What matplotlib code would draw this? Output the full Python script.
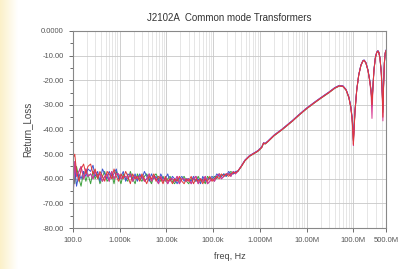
import numpy as np
import matplotlib
matplotlib.use("Agg")
import matplotlib.pyplot as plt
from matplotlib.ticker import FixedLocator, NullFormatter, LogLocator

plt.rcParams['font.family'] = ['Liberation Sans', 'DejaVu Sans']

# frequency grid, Hz
freq = [100, 110, 120, 135, 150, 170, 190, 210, 240, 270,
        300, 340, 380, 430, 480, 540, 600, 680, 760, 850,
        950, 1070, 1200, 1350, 1500, 1700, 1900, 2150, 2400, 2700,
        3000, 3400, 3800, 4300, 4800, 5400, 6000, 6800, 7600, 8500,
        9500, 10.7e3, 12e3, 13.5e3, 15e3, 17e3, 19e3, 21.5e3, 24e3, 27e3,
        30e3, 34e3, 38e3, 43e3, 48e3, 54e3, 60e3, 68e3, 76e3, 85e3,
        95e3, 107e3, 120e3, 135e3, 150e3, 170e3, 190e3, 215e3, 240e3, 270e3,
        300e3,
        340e3, 400e3, 480e3, 600e3, 750e3, 900e3, 1e6, 1.1e6, 1.2e6, 1.3e6,
        1.5e6, 2e6, 3e6, 5e6, 7e6, 10e6, 15e6, 20e6, 30e6, 40e6,
        50e6, 60e6, 70e6, 80e6, 88e6, 94e6, 98e6, 100e6, 103e6, 108e6,
        118e6, 130e6, 145e6, 160e6, 170e6, 185e6, 205e6, 225e6, 240e6, 250e6,
        260e6, 275e6, 295e6, 315e6, 335e6, 350e6, 370e6, 395e6, 415e6, 428e6,
        440e6, 460e6, 480e6, 500e6]

# low band (100 Hz .. 300 kHz), one list per trace
lf_red = [-52, -50, -57, -61, -56, -54, -58, -55, -54, -58,
          -56, -60, -57, -59, -61, -57, -58, -60, -56, -59,
          -61, -58, -60, -57, -59, -62, -58, -60, -59, -61,
          -58, -60, -62, -59, -60, -58, -61, -59, -60, -62,
          -59, -61, -60, -62, -60, -61, -59, -61, -62, -60,
          -61, -59, -62, -60, -61, -60, -62, -60, -61, -59,
          -61, -60, -59, -60, -58, -59, -58, -59, -58, -57.5,
          -57.5]
lf_blue = [-60, -55, -63, -58, -60, -57, -59, -56, -57, -54.5,
           -59, -57, -61, -56, -58, -60, -57, -59, -58, -56,
           -60, -59, -57, -61, -58, -59, -60, -58, -61, -58,
           -60, -57, -59, -61, -58, -60, -59, -61, -58, -60,
           -60, -58, -61, -59, -60, -62, -60, -59, -61, -60,
           -60, -61, -59, -61, -60, -62, -59, -61, -60, -60,
           -59, -60, -58, -59, -59, -58, -59, -57, -58, -58,
           -57]
lf_green = [-56, -62, -55, -60, -63, -57, -61, -58, -62, -57,
            -60, -58, -62, -59, -57, -61, -60, -58, -62, -57,
            -59, -62, -58, -60, -61, -57, -60, -62, -58, -60,
            -61, -59, -58, -60, -62, -59, -58, -60, -61, -59,
            -61, -60, -59, -61, -62, -60, -61, -60, -59, -61,
            -62, -60, -60, -61, -59, -61, -60, -62, -59, -60,
            -60, -59, -60, -58, -59, -58, -59, -58, -57, -58,
            -57.5]
lf_magenta = [-70, -53, -59, -57, -55, -60, -56, -59, -58, -60,
              -57, -59, -58, -61, -59, -58, -61, -57, -60, -58,
              -58, -60, -59, -59, -60, -58, -61, -59, -60, -59,
              -59, -61, -60, -58, -61, -59, -60, -62, -59, -61,
              -60, -62, -60, -60, -61, -59, -62, -60, -60, -61,
              -60, -62, -60, -59, -62, -60, -61, -59, -62, -61,
              -60, -61, -59, -58, -60, -59, -58, -58, -59, -57,
              -58]

# high band (340 kHz .. 500 MHz)
hf_red = [-56.8, -55, -52.6, -50.8, -49.7, -48.8, -48, -47.2, -45.5, -45.8,
          -44.8, -42.5, -40, -36.5, -34, -31.5, -29, -27.3, -25, -23.2,
          -22.3, -22.5, -24, -27, -31, -36, -42, -46, -41, -33,
          -24, -18, -14, -12.2, -12, -13, -16, -20.5, -25, -30,
          -24, -16, -11, -8.8, -8.2, -8.8, -11, -17, -26, -35,
          -24, -13, -9, -8]
hf_blue = [-56.8, -54.8, -52.4, -50.6, -49.5, -48.6, -47.8, -47, -45.4, -45.6,
           -44.6, -42.3, -39.8, -36.3, -33.8, -31.3, -28.8, -27.1, -24.8, -23,
           -22.1, -22.3, -23.8, -26.8, -30.5, -35, -40, -44, -40, -32.5,
           -23.8, -17.8, -13.8, -12, -11.8, -12.8, -15.8, -20.2, -24.5, -29,
           -23.5, -15.8, -10.8, -8.6, -8, -8.6, -10.8, -16.5, -25, -32,
           -23, -12.8, -8.8, -7.8]
hf_green = [-57, -55.1, -52.7, -50.9, -49.8, -48.9, -48.1, -47.3, -45.6, -45.9,
            -44.9, -42.6, -40.1, -36.6, -34.1, -31.6, -29.1, -27.4, -25.1, -23.3,
            -22.4, -22.6, -24.1, -27.1, -31, -35.5, -41, -44.5, -40.5, -33,
            -24, -18, -14, -12.2, -12, -13, -16, -20.5, -24.5, -30.5,
            -24, -16, -11, -8.8, -8.2, -8.8, -11, -16.8, -25.5, -33,
            -23.5, -13, -9, -8]
hf_magenta = [-56.9, -55, -52.6, -50.8, -49.7, -48.8, -48, -47.2, -45.5, -45.8,
              -44.8, -42.5, -40, -36.5, -34, -31.5, -29, -27.3, -25, -23.2,
              -22.3, -22.5, -24, -27, -31, -36, -42.5, -46.5, -41.5, -33,
              -24, -18, -14, -12.2, -12, -13, -16, -21, -26, -35.5,
              -25, -16.2, -11, -8.8, -8.2, -8.8, -11, -17.5, -27, -36.5,
              -24.5, -13.2, -9, -8]

traces = [
    ("#3aa03a", lf_green + hf_green),
    ("#3c55d2", lf_blue + hf_blue),
    ("#8a4cc0", lf_magenta + hf_blue),
    ("#d8388f", lf_magenta + hf_magenta),
    ("#e03838", lf_red + hf_red),
]

xticks = [1e2, 1e3, 1e4, 1e5, 1e6, 1e7, 1e8, 5e8]
xticklabels = ["100.0", "1.000k", "10.00k", "100.0k", "1.000M", "10.00M", "100.0M", "500.0M"]
yticks = [0, -10, -20, -30, -40, -50, -60, -70, -80]
yticklabels = ["0.0000", "-10.00", "-20.00", "-30.00", "-40.00", "-50.00", "-60.00", "-70.00", "-80.00"]

fig = plt.figure(figsize=(3.98, 2.69), dpi=100)

# pale yellow edge on the left of the page
bg = fig.add_axes([0, 0, 0.045, 1], zorder=-5)
bg.imshow(np.linspace(1, 0, 50).reshape(1, -1), aspect="auto",
          cmap=matplotlib.colors.LinearSegmentedColormap.from_list("y", ["#ffffff", "#fbf0c8"]),
          extent=[0, 1, 0, 1])
bg.axis("off")

ax = fig.add_axes([0.183, 0.152, 0.787, 0.733])
for col, vals in traces:
    ax.plot(freq, vals, color=col, lw=0.7)

ax.set_xscale("log")
ax.set_xlim(100, 5e8)
ax.set_ylim(-80, 0)
ax.set_xticks(xticks)
ax.set_xticklabels(xticklabels)
ax.xaxis.set_minor_locator(LogLocator(base=10, subs=np.arange(2, 10)))
ax.xaxis.set_minor_formatter(NullFormatter())
ax.set_yticks(yticks)
ax.set_yticklabels(yticklabels)
ax.yaxis.set_minor_locator(FixedLocator(np.arange(-75, 0, 10)))

ax.grid(True, which="major", color="#c8c8c8", lw=0.6)
ax.grid(True, which="minor", axis="x", color="#dcdcdc", lw=0.5)
ax.tick_params(which="both", labelsize=5.5, colors="#555555", length=3, width=0.6)
ax.tick_params(axis="y", which="minor", length=2)
ax.tick_params(axis="x", which="minor", length=0)
for s in ax.spines.values():
    s.set_color("#888888")
    s.set_linewidth(0.8)

ax.set_title("J2102A  Common mode Transformers", fontsize=7, color="#333333", pad=7)
ax.set_xlabel("freq, Hz", fontsize=6.5, color="#444444", labelpad=6)
ax.set_ylabel("Return_Loss", fontsize=7, color="#444444", labelpad=6)

fig.savefig("out.png", dpi=100)
